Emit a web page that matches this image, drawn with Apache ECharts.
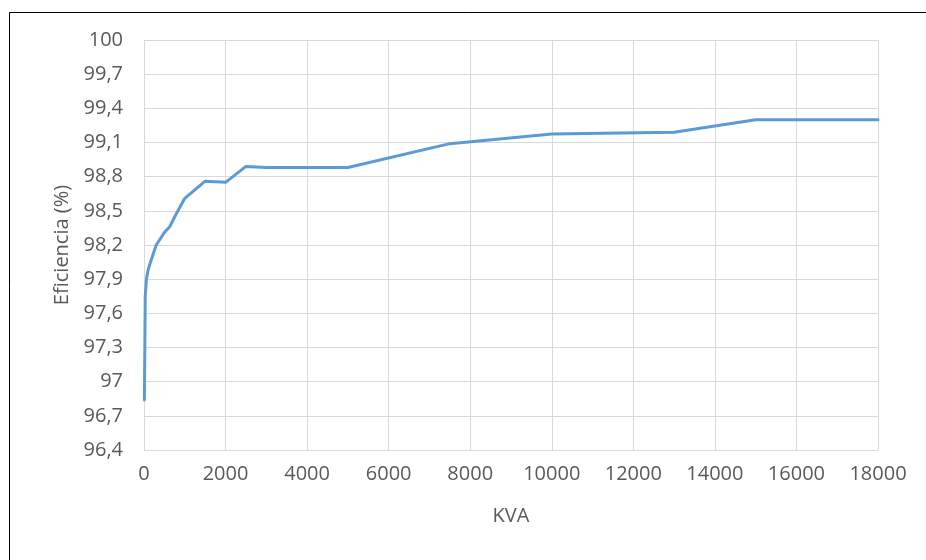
<!DOCTYPE html>
<html>
<head>
<meta charset="utf-8">
<script src="https://cdn.jsdelivr.net/npm/echarts@6/dist/echarts.min.js"></script>
<style>
  html, body { margin: 0; padding: 0; background: #fff; }
  #chart { width: 926px; height: 560px; }
</style>
</head>
<body>
<div id="chart"></div>
<script>
// Data
const kva = [10, 30, 60, 100, 150, 300, 500, 630, 800, 1000, 1500, 2000, 2500, 3000, 5000, 7500, 10000, 13000, 15000, 18000];
const eficiencia = [96.84, 97.75, 97.90, 97.98, 98.04, 98.20, 98.31, 98.36, 98.48, 98.61, 98.76, 98.75, 98.89, 98.88, 98.88, 99.09, 99.175, 99.19, 99.30, 99.30];
const xTitle = 'KVA';
const yTitle = 'Eficiencia (%)';

const points = kva.map((k, i) => [k, eficiencia[i]]);
const font = '"Open Sans", "Liberation Sans", sans-serif';
const grid = '#d9d9d9';
const textColor = '#595959';

const chart = echarts.init(document.getElementById('chart'), null, { renderer: 'canvas' });
chart.setOption({
  animation: false,
  backgroundColor: '#fff',
  graphic: [{
    type: 'rect',
    shape: { x: 9.5, y: 12.5, width: 1200, height: 1200 },
    style: { fill: 'none', stroke: '#000', lineWidth: 1 },
    silent: true
  }],
  grid: { left: 144, top: 40, right: 48, bottom: 110, containLabel: false },
  xAxis: {
    type: 'value',
    min: 0, max: 18000, interval: 2000,
    name: xTitle, nameLocation: 'middle', nameGap: 56,
    nameTextStyle: { color: textColor, fontFamily: font, fontSize: 20 },
    axisLine: { show: true, lineStyle: { color: grid, width: 1 } },
    axisTick: { show: false },
    axisLabel: { color: textColor, fontFamily: font, fontSize: 20, margin: 14, formatter: v => String(v) },
    splitLine: { show: true, lineStyle: { color: grid, width: 1 } }
  },
  yAxis: {
    type: 'value',
    min: 96.4, max: 100, interval: 0.3,
    name: yTitle, nameLocation: 'middle', nameGap: 72,
    nameTextStyle: { color: textColor, fontFamily: font, fontSize: 20 },
    axisLine: { show: true, lineStyle: { color: grid, width: 1 } },
    axisTick: { show: false },
    axisLabel: {
      color: textColor, fontFamily: font, fontSize: 20, margin: 21,
      formatter: v => String(Math.round(v * 10) / 10).replace('.', ',')
    },
    splitLine: { show: true, lineStyle: { color: grid, width: 1 } }
  },
  series: [{
    type: 'line',
    data: points,
    showSymbol: false,
    symbol: 'none',
    lineStyle: { color: '#5b9bd5', width: 3, cap: 'round', join: 'round' },
    itemStyle: { color: '#5b9bd5' }
  }]
});
</script>
</body>
</html>
